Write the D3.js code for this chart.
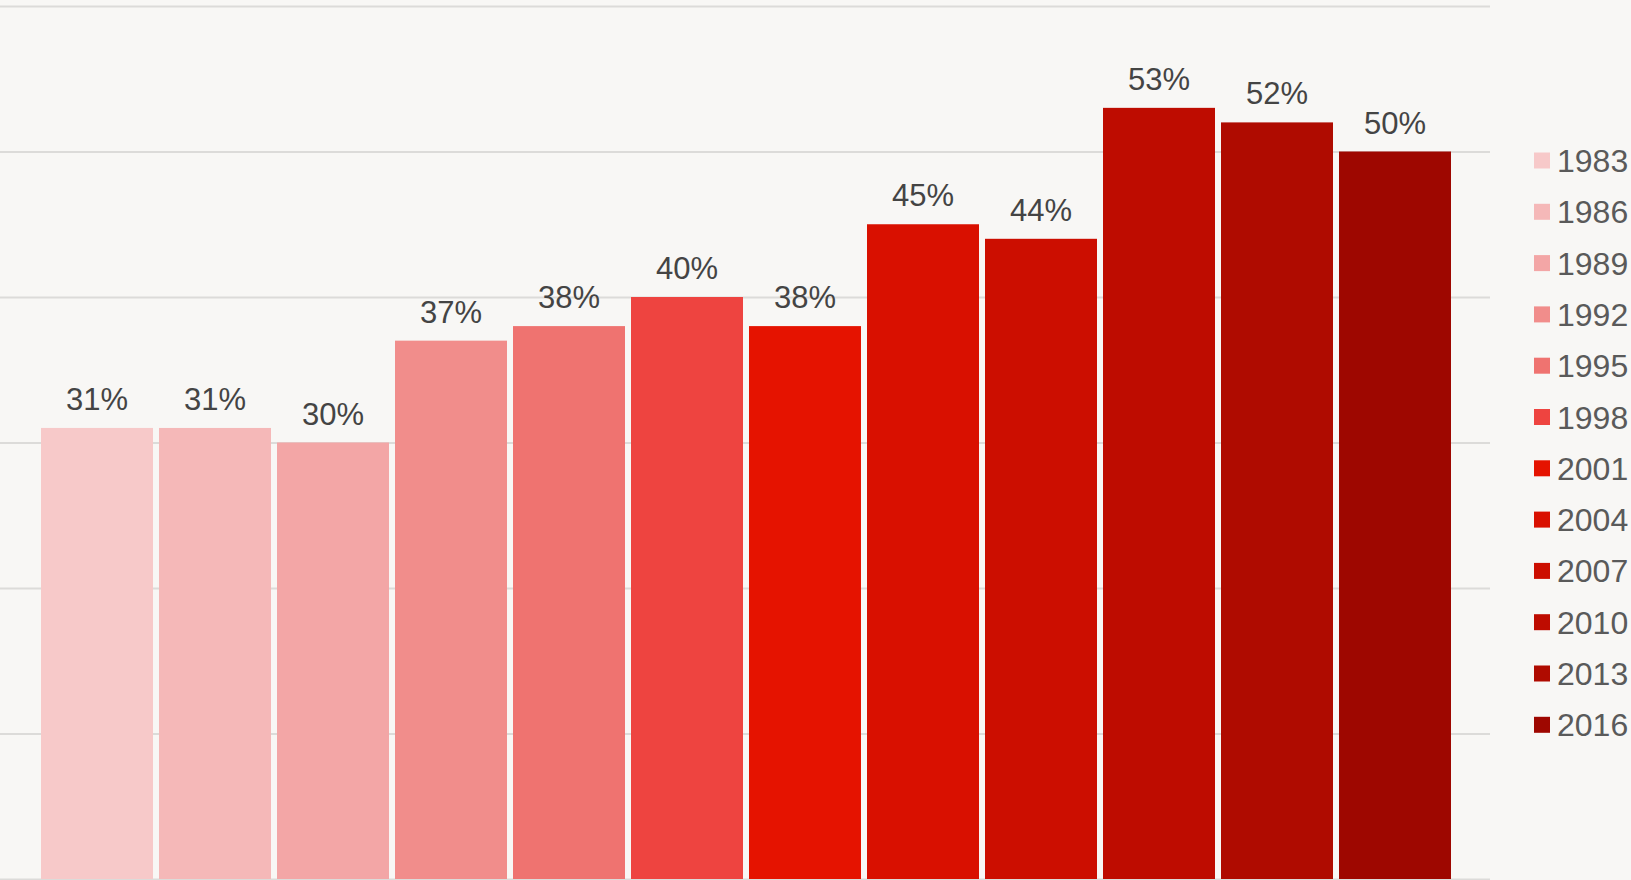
<!DOCTYPE html>
<html>
<head>
<meta charset="utf-8">
<script src="https://cdn.jsdelivr.net/npm/d3@7"></script>
<style>
  html, body { margin: 0; padding: 0; background: #f8f7f5; }
</style>
</head>
<body>
<div id="chart"></div>
<script>
// data
const years = ["1983", "1986", "1989", "1992", "1995", "1998", "2001", "2004", "2007", "2010", "2013", "2016"];
const shares = [31, 31, 30, 37, 38, 40, 38, 45, 44, 53, 52, 50];
const colors = ["#f7c9c9", "#f5b8b8", "#f3a6a6", "#f18d8b", "#ef7370", "#ee4440",
                "#e51300", "#d91000", "#cc0e00", "#be0c00", "#af0b00", "#9e0700"];
const yTicks = [0, 10, 20, 30, 40, 50, 60];

const width = 1631, height = 880;
const marginTop = 6, marginBottom = 1;
const plotRight = 1490; // gridlines end here, legend to the right

const x = d3.scaleBand()
    .domain(years)
    .range([38, 1454])
    .paddingInner(6 / 118)
    .paddingOuter(3 / 118);

const y = d3.scaleLinear()
    .domain([0, 60])
    .range([height - marginBottom, marginTop]);

const color = d3.scaleOrdinal(years, colors);

const svg = d3.select("#chart").append("svg")
    .attr("width", width)
    .attr("height", height)
    .attr("viewBox", [0, 0, width, height])
    .attr("font-family", "Liberation Sans, Arial, sans-serif");

svg.append("rect")
    .attr("width", width)
    .attr("height", height)
    .attr("fill", "#f8f7f5");

// gridlines
svg.append("g")
    .call(d3.axisLeft(y).tickValues(yTicks).tickSize(-plotRight).tickFormat(""))
    .call(g => g.select(".domain").remove())
    .call(g => g.selectAll(".tick line")
        .attr("stroke", "#dcdbd9")
        .attr("stroke-width", 2));

// bars
svg.append("g")
  .selectAll("rect")
  .data(years)
  .join("rect")
    .attr("x", d => x(d))
    .attr("y", (d, i) => y(shares[i]))
    .attr("width", x.bandwidth())
    .attr("height", (d, i) => y(0) - y(shares[i]))
    .attr("fill", d => color(d));

// value labels
svg.append("g")
    .attr("font-size", 31)
    .attr("fill", "#444")
    .attr("text-anchor", "middle")
  .selectAll("text")
  .data(years)
  .join("text")
    .attr("x", d => x(d) + x.bandwidth() / 2)
    .attr("y", (d, i) => y(shares[i]) - 18)
    .text((d, i) => shares[i] + "%");

// legend
const legend = svg.append("g")
    .attr("transform", "translate(1534,152.5)")
    .attr("font-size", 32)
    .attr("fill", "#5a5a5a");

const item = legend.selectAll("g")
  .data(years)
  .join("g")
    .attr("transform", (d, i) => `translate(0,${i * 51.3})`);

item.append("rect")
    .attr("width", 16)
    .attr("height", 16)
    .attr("fill", d => color(d));

item.append("text")
    .attr("x", 23)
    .attr("y", 8)
    .attr("dy", "0.36em")
    .text(d => d);
</script>
</body>
</html>
